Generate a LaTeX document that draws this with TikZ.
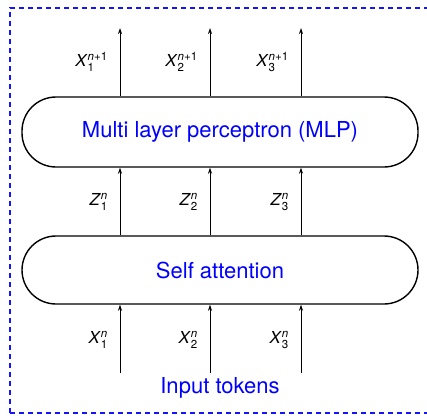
\documentclass[tikz,border=0pt]{standalone}
\usepackage{amsmath}
\usepackage{fontspec}
\setmainfont{TeX Gyre Heros}
\usetikzlibrary{arrows.meta}
\definecolor{frameblue}{RGB}{20,20,255}
\newcommand\tok[3]{\textit{#1}$_{\textup{#2}}^{\textup{#3}}$}
\begin{document}
\begin{tikzpicture}[x=1pt,y=-1pt,
  blk/.style={draw,line width=1.4pt,rounded corners=34pt,minimum width=396pt,font=\fontsize{22}{26}\selectfont,text=blue},
  flow/.style={-{Stealth[length=6pt,width=4pt]},line width=1pt},
  lab/.style={anchor=east,font=\fontsize{16.5}{19}\selectfont,inner sep=0pt}]
\useasboundingbox (0,0) rectangle (427,417);
\draw[draw=frameblue,line width=1.4pt,dash pattern=on 5pt off 4pt] (10,413) -- (10,8) -- (440,8) (10,413) -- (440,413);
\node[blk,minimum height=70pt] (mlp) at (220,132) {Multi layer perceptron (MLP)};
\node[blk,minimum height=68pt] (sa) at (220,270) {Self attention};
\node[text=blue,font=\fontsize{22}{26}\selectfont] (in) at (220,388) {Input tokens};
\foreach \i/\x in {1/120,2/210,3/301}{
  \coordinate (t\i) at (\x,28);
  \coordinate (b\i) at (\x,373);
  \draw[flow] (mlp.north -| t\i) -- (t\i);
  \draw[flow] (sa.north -| t\i) -- (mlp.south -| t\i);
  \draw[flow] (b\i) -- (sa.south -| t\i);
  \node[lab] (xo\i) at (\x-12,62) {\tok{X}{\i}{\textit{n}+1}};
  \node[lab] (z\i) at (\x-12,202) {\tok{Z}{\i}{\textit{n}}};
  \node[lab] (xi\i) at (\x-12,340) {\tok{X}{\i}{\textit{n}}};
}
\end{tikzpicture}
\end{document}
